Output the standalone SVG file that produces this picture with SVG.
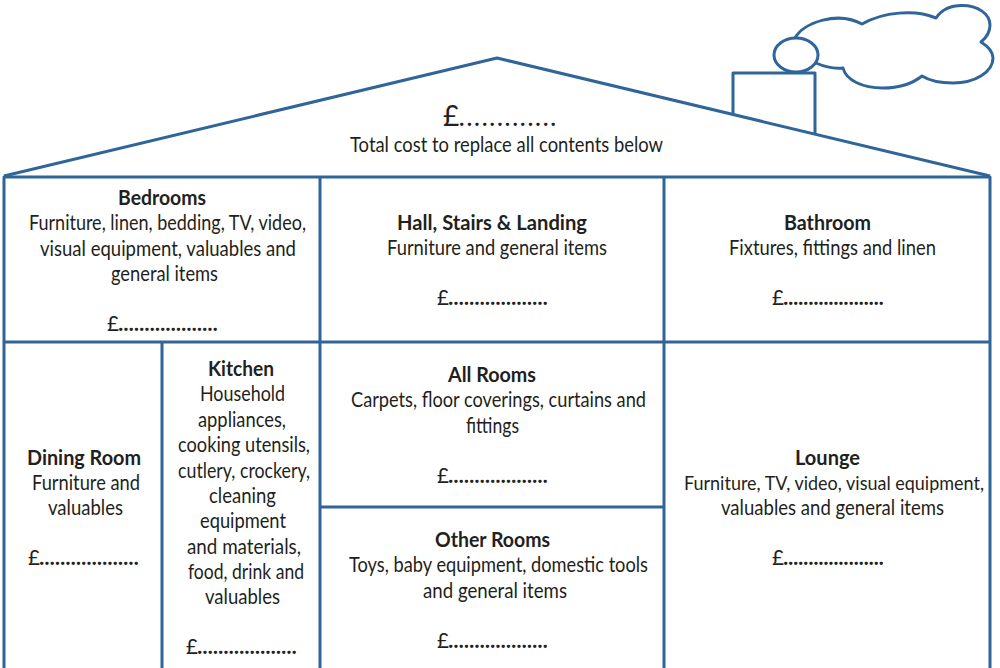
<svg xmlns="http://www.w3.org/2000/svg" width="1000" height="668" viewBox="0 0 1000 668">
<style>
.l{fill:none;stroke:#2f6599;stroke-width:3;stroke-linejoin:round}
text{font-family:Lato,"Open Sans","Liberation Sans",sans-serif;font-size:20.5px;fill:#231f20;text-anchor:start}
.b{font-weight:700}
text.d{font-family:"Open Sans","Liberation Sans",sans-serif;font-weight:700;font-size:19px}
</style>
<rect width="1000" height="668" fill="#fff"/>
<g id="connectors">
<path class="l" d="M4 176L497 58L990 176"/>
<path class="l" d="M733 114.500V73H815V133.500"/>
<path class="l" d="M4 668V177H990V668M4 342H990M320 177V668M664 177V668M162 342V668M320 507H664"/>
<path class="l" d="M795 38C804 22 838 11 862 24C883 12 915 9 936 18C942 9 952 5.500 962 5.500C978 5.500 990 14 990 25C990 32 986 38 981 42C989 47 993 52 993 58C993 72 975 83 953 83C941 83 930 81 922 76C912 84 898 88 883 88C862 88 846 80 843 68C834 69 825 67 816 63"/>
<ellipse class="l" cx="796" cy="55" rx="22" ry="17"/>
</g>
<g id="total">
<text x="443" y="126" style="font-size:28px">£</text>
<text class="d" x="459" y="126" textLength="97" lengthAdjust="spacing">.............</text>
<text x="350" y="151.500" textLength="313" lengthAdjust="spacingAndGlyphs">Total cost to replace all contents below</text>
</g>
<g id="bedrooms">
<text class="b" x="118" y="204.500" textLength="88" lengthAdjust="spacingAndGlyphs">Bedrooms</text>
<text x="29" y="229.500" textLength="277" lengthAdjust="spacingAndGlyphs">Furniture, linen, bedding, TV, video,</text>
<text x="40" y="255.500" textLength="256" lengthAdjust="spacingAndGlyphs">visual equipment, valuables and</text>
<text x="111" y="280.500" textLength="107" lengthAdjust="spacingAndGlyphs">general items</text>
<text x="107" y="331">£</text><text class="d" x="118" y="331" textLength="100">...................</text>
</g>
<g id="hall">
<text class="b" x="397" y="229.500" textLength="190" lengthAdjust="spacingAndGlyphs">Hall, Stairs &amp; Landing</text>
<text x="387" y="254.500" textLength="220" lengthAdjust="spacingAndGlyphs">Furniture and general items</text>
<text x="437" y="305">£</text><text class="d" x="448" y="305" textLength="100">...................</text>
</g>
<g id="bathroom">
<text class="b" x="784" y="229.500" textLength="87" lengthAdjust="spacingAndGlyphs">Bathroom</text>
<text x="729" y="254.500" textLength="207" lengthAdjust="spacingAndGlyphs">Fixtures, fittings and linen</text>
<text x="772" y="305">£</text><text class="d" x="783" y="305" textLength="101">....................</text>
</g>
<g id="dining">
<text class="b" x="27" y="464.500" textLength="114" lengthAdjust="spacingAndGlyphs">Dining Room</text>
<text x="32" y="489.500" textLength="108" lengthAdjust="spacingAndGlyphs">Furniture and</text>
<text x="48" y="514.500" textLength="75" lengthAdjust="spacingAndGlyphs">valuables</text>
<text x="28" y="565">£</text><text class="d" x="39" y="565" textLength="100">...................</text>
</g>
<g id="kitchen">
<text class="b" x="208" y="375.500" textLength="66" lengthAdjust="spacingAndGlyphs">Kitchen</text>
<text x="200" y="400.500" textLength="85" lengthAdjust="spacingAndGlyphs">Household</text>
<text x="198" y="426.500" textLength="88" lengthAdjust="spacingAndGlyphs">appliances,</text>
<text x="178" y="451.500" textLength="132" lengthAdjust="spacingAndGlyphs">cooking utensils,</text>
<text x="178" y="477.500" textLength="132" lengthAdjust="spacingAndGlyphs">cutlery, crockery,</text>
<text x="209" y="502.500" textLength="67" lengthAdjust="spacingAndGlyphs">cleaning</text>
<text x="200" y="527.500" textLength="86" lengthAdjust="spacingAndGlyphs">equipment</text>
<text x="187" y="553.500" textLength="114" lengthAdjust="spacingAndGlyphs">and materials,</text>
<text x="188" y="578.500" textLength="116" lengthAdjust="spacingAndGlyphs">food, drink and</text>
<text x="205" y="603.500" textLength="75" lengthAdjust="spacingAndGlyphs">valuables</text>
<text x="186" y="654">£</text><text class="d" x="197" y="654" textLength="100">...................</text>
</g>
<g id="allrooms">
<text class="b" x="448" y="381.500" textLength="88" lengthAdjust="spacingAndGlyphs">All Rooms</text>
<text x="351" y="406.500" textLength="295" lengthAdjust="spacingAndGlyphs">Carpets, floor coverings, curtains and</text>
<text x="466" y="432.500" textLength="53" lengthAdjust="spacingAndGlyphs">fittings</text>
<text x="437" y="483">£</text><text class="d" x="448" y="483" textLength="100">...................</text>
</g>
<g id="otherrooms">
<text class="b" x="435" y="546.500" textLength="115" lengthAdjust="spacingAndGlyphs">Other Rooms</text>
<text x="349" y="571.500" textLength="299" lengthAdjust="spacingAndGlyphs">Toys, baby equipment, domestic tools</text>
<text x="423" y="597.500" textLength="144" lengthAdjust="spacingAndGlyphs">and general items</text>
<text x="437" y="648">£</text><text class="d" x="448" y="648" textLength="100">...................</text>
</g>
<g id="lounge">
<text class="b" x="795" y="464.500" textLength="65" lengthAdjust="spacingAndGlyphs">Lounge</text>
<text x="684" y="489.500" textLength="300" lengthAdjust="spacingAndGlyphs" style="font-size:19px">Furniture, TV, video, visual equipment,</text>
<text x="721" y="514.500" textLength="223" lengthAdjust="spacingAndGlyphs">valuables and general items</text>
<text x="772" y="565">£</text><text class="d" x="783" y="565" textLength="101">....................</text>
</g>
</svg>
